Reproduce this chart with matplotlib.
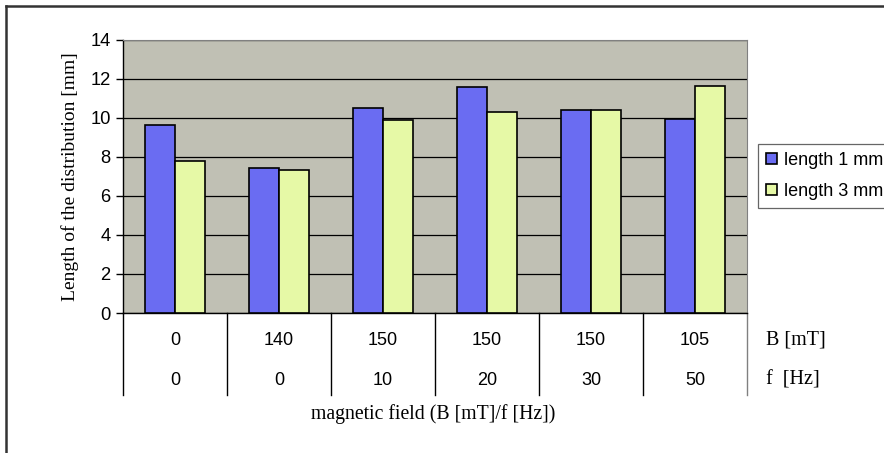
import matplotlib
matplotlib.use("Agg")
import matplotlib.pyplot as plt
import matplotlib.transforms as mtransforms
from matplotlib.lines import Line2D
import numpy as np

# measured distribution lengths for each field setting
b_field = ["0", "140", "150", "150", "150", "105"]
freq = ["0", "0", "10", "20", "30", "50"]
len_1mm = [9.62, 7.42, 10.48, 11.55, 10.40, 9.93]
len_3mm = [7.78, 7.33, 9.86, 10.31, 10.40, 11.62]
series_names = ["length 1 mm", "length 3 mm"]

sans = ["Liberation Sans", "DejaVu Sans"]
serif = ["Liberation Serif", "DejaVu Serif"]
plt.rcParams["font.family"] = sans

fig = plt.figure(figsize=(8.84, 4.53), dpi=100)
ax = fig.add_axes([123 / 884, 1 - 313 / 453, 624 / 884, 273.5 / 453])
ax.set_facecolor("#c0c0b4")

x = np.arange(len(b_field))
w = 0.29
ax.bar(x - w / 2, len_1mm, w, color="#6a6cf2", edgecolor="black",
       linewidth=1.2, label=series_names[0], zorder=3)
ax.bar(x + w / 2, len_3mm, w, color="#e6f9a6", edgecolor="black",
       linewidth=1.2, label=series_names[1], zorder=3)

ax.set_xlim(-0.5, len(b_field) - 0.5)
ax.set_ylim(0, 14)
ax.set_yticks(range(0, 15, 2))
ax.yaxis.grid(True, color="black", linewidth=0.9, zorder=1)
ax.tick_params(axis="y", labelsize=13.2, length=5, width=1, direction="out",
               pad=4)
ax.set_xticks([])
for side in ("top", "right"):
    ax.spines[side].set_color("#808080")
ax.spines["left"].set_linewidth(1.0)
ax.spines["bottom"].set_linewidth(1.0)

ax.set_ylabel("Length of the distribution [mm]", family=serif, fontsize=14,
              labelpad=8)

# data table under the axis: B and f for each group
trans = mtransforms.blended_transform_factory(ax.transData, ax.transAxes)
for i in range(len(b_field) + 1):
    xe = i - 0.5
    col = "#808080" if i == len(b_field) else "black"
    ax.add_line(Line2D([xe, xe], [0, -0.30], transform=trans, color=col,
                       linewidth=1.0, clip_on=False))
for i in range(len(b_field)):
    ax.text(i, -0.099, b_field[i], transform=trans, ha="center", va="center",
            fontsize=13)
    ax.text(i, -0.245, freq[i], transform=trans, ha="center", va="center",
            fontsize=13)
ax.text(len(b_field) - 0.32, -0.099, "B [mT]", transform=trans, ha="left",
        va="center", family=serif, fontsize=14.5)
ax.text(len(b_field) - 0.32, -0.245, "f  [Hz]", transform=trans, ha="left",
        va="center", family=serif, fontsize=14.5)

fig.text(433 / 884, 1 - 414 / 453, "magnetic field (B [mT]/f [Hz])",
         family=serif, fontsize=14.2, ha="center", va="center")

leg = ax.legend(loc="upper left", bbox_to_anchor=(758 / 884, 1 - 144 / 453),
                bbox_transform=fig.transFigure, fontsize=13, frameon=True,
                fancybox=False, edgecolor="#404040", handlelength=0.6,
                handleheight=0.6, handletextpad=0.4, borderpad=0.45,
                labelspacing=0.75, borderaxespad=0)
leg.get_frame().set_linewidth(0.9)

# outer chart border (runs off the right and bottom edges)
fig.add_artist(Line2D([6 / 884, 1.0], [1 - 6 / 453, 1 - 6 / 453],
                      transform=fig.transFigure, color="#333333", linewidth=1.8))
fig.add_artist(Line2D([6 / 884, 6 / 884], [0, 1 - 6 / 453],
                      transform=fig.transFigure, color="#333333", linewidth=1.8))

fig.savefig("out.png", dpi=100)
